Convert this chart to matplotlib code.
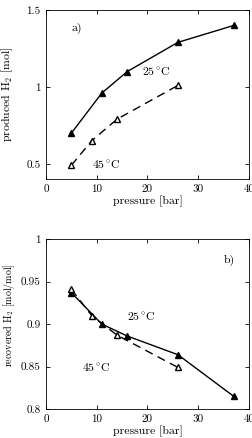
import matplotlib
matplotlib.use("Agg")
import matplotlib.pyplot as plt

plt.rcParams['font.family'] = 'serif'
plt.rcParams['font.serif'] = ['cmr10', 'DejaVu Serif']
plt.rcParams['mathtext.fontset'] = 'cm'
plt.rcParams['axes.formatter.use_mathtext'] = True
plt.rcParams['axes.unicode_minus'] = False

# Panel a) produced H2 [mol]
p25_a = [5, 11, 16, 26, 37]
h2_25 = [0.70, 0.96, 1.10, 1.29, 1.40]
p45_a = [5, 9, 14, 26]
h2_45 = [0.49, 0.65, 0.79, 1.01]

# Panel b) recovered H2 [mol/mol]
p25_b = [5, 11, 16, 26, 37]
rec_25 = [0.937, 0.900, 0.886, 0.864, 0.815]
p45_b = [5, 9, 14, 26]
rec_45 = [0.941, 0.910, 0.887, 0.849]

xticks = [0, 10, 20, 30, 40]
yticks_a = [0.5, 1, 1.5]
yticks_a_lab = ['0.5', '1', '1.5']
yticks_b = [0.8, 0.85, 0.9, 0.95, 1]
yticks_b_lab = ['0.8', '0.85', '0.9', '0.95', '1']

fig = plt.figure(figsize=(2.53, 4.38), dpi=100)
ax1 = fig.add_axes([0.182, 0.591, 0.802, 0.386])
ax2 = fig.add_axes([0.182, 0.066, 0.802, 0.388])

tfs = 8
lfs = 8.5
for ax in (ax1, ax2):
    ax.tick_params(direction='in', top=True, right=True, labelsize=tfs, length=3, width=0.6, pad=4)
    for s in ax.spines.values():
        s.set_linewidth(0.6)
    ax.set_xlim(0, 40)
    ax.set_xticks(xticks)
    ax.set_xticklabels([str(t) for t in xticks])
    ax.set_xlabel('pressure [bar]', fontsize=lfs, labelpad=1)

ax1.plot(p25_a, h2_25, '-^', color='black', lw=1, ms=5, mfc='black')
ax1.plot(p45_a, h2_45, '--^', color='black', lw=1, ms=5, mfc='white', dashes=(6, 4))
ax1.set_ylim(0.4, 1.5)
ax1.set_yticks(yticks_a)
ax1.set_yticklabels(yticks_a_lab)
ax1.set_ylabel(r'produced H$_2$ [mol]', fontsize=lfs)
ax1.yaxis.set_label_coords(-0.155, 0.5)
ax1.text(5, 1.38, 'a)', fontsize=lfs, va='center')
ax1.text(19, 1.1, r'25$^\circ\!$C', fontsize=lfs, va='center')
ax1.text(9, 0.49, r'45$^\circ\!$C', fontsize=lfs, va='center')

ax2.plot(p25_b, rec_25, '-^', color='black', lw=1, ms=5, mfc='black')
ax2.plot(p45_b, rec_45, '--^', color='black', lw=1, ms=5, mfc='white', dashes=(6, 4))
ax2.set_ylim(0.8, 1.0)
ax2.set_yticks(yticks_b)
ax2.set_yticklabels(yticks_b_lab)
ax2.set_ylabel(r'recovered H$_2$ [mol/mol]', fontsize=7.2)
ax2.yaxis.set_label_coords(-0.145, 0.55)
ax2.text(35, 0.975, 'b)', fontsize=lfs, va='center')
ax2.text(16, 0.908, r'25$^\circ\!$C', fontsize=lfs, va='center')
ax2.text(7, 0.849, r'45$^\circ\!$C', fontsize=lfs, va='center')

fig.savefig('out.png', dpi=100)
